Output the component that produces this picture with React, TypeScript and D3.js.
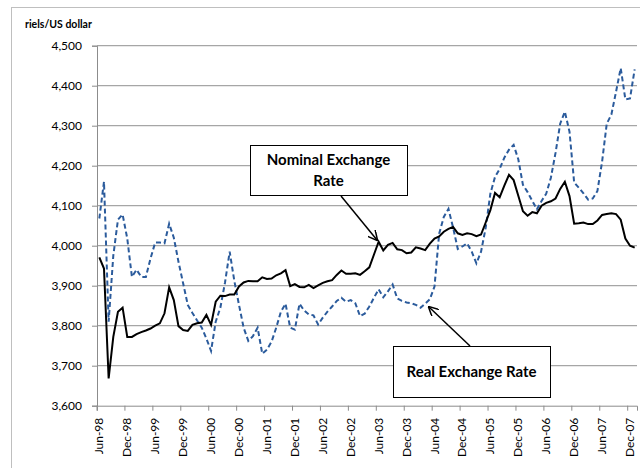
import { useEffect, useRef } from 'react';
import * as d3 from 'd3';

// monthly categories, Jun-98 .. Jan-08
const months = d3
  .timeMonths(new Date(1998, 5, 1), new Date(2008, 1, 1))
  .map(d3.timeFormat('%b-%y'));

const nominalRate = [
  3971, 3943, 3668, 3772, 3835, 3845, 3772, 3772, 3779, 3784,
  3788, 3793, 3800, 3806, 3831, 3896, 3864, 3799, 3789, 3787,
  3802, 3806, 3808, 3827, 3802, 3860, 3875, 3874, 3878, 3878,
  3898, 3908, 3912, 3911, 3911, 3921, 3917, 3918, 3926, 3931,
  3939, 3899, 3904, 3897, 3896, 3902, 3894, 3901, 3907, 3911,
  3914, 3927, 3938, 3930, 3930, 3931, 3927, 3936, 3946, 3978,
  4010, 3988, 4002, 4007, 3991, 3989, 3981, 3983, 3996, 3993,
  3989, 4005, 4018, 4023, 4035, 4042, 4047, 4031, 4027, 4031,
  4029, 4024, 4028, 4058, 4089, 4132, 4121, 4150, 4177, 4164,
  4125, 4086, 4075, 4084, 4081, 4100, 4107, 4111, 4118, 4142,
  4160, 4124, 4055, 4056, 4058, 4054, 4054, 4063, 4077, 4079,
  4081, 4079, 4065, 4018, 4000, 3995,
];

const realRate = [
  4068, 4160, 3810, 3975, 4065, 4078, 4018, 3922, 3940, 3922,
  3922, 3968, 4008, 4008, 4006, 4055, 4020, 3960, 3906, 3852,
  3832, 3813, 3795, 3768, 3737, 3810, 3845, 3908, 3985, 3912,
  3852, 3795, 3762, 3774, 3795, 3730, 3740, 3760, 3795, 3835,
  3855, 3795, 3790, 3855, 3838, 3828, 3826, 3803, 3820, 3835,
  3848, 3862, 3870, 3860, 3864, 3856, 3824, 3830, 3848, 3870,
  3891, 3871, 3886, 3903, 3868, 3862, 3858, 3856, 3852, 3845,
  3855, 3866, 3898, 4030, 4072, 4092, 4045, 3992, 3998, 4006,
  3985, 3956, 3985, 4045, 4130, 4172, 4192, 4220, 4240, 4252,
  4216, 4152, 4134, 4112, 4091, 4112, 4130, 4170, 4232, 4305,
  4335, 4285, 4158, 4145, 4131, 4115, 4118, 4137, 4210, 4305,
  4328, 4385, 4444, 4366, 4368, 4441,
];

const yTicks = [3600, 3700, 3800, 3900, 4000, 4100, 4200, 4300, 4400, 4500];

const FONT = 'Lato, "Open Sans", sans-serif';

const App = () => {
  const ref = useRef<SVGSVGElement>(null);

  useEffect(() => {
    const svg = d3.select(ref.current);
    svg.selectAll('*').remove();

    const left = 97;
    const right = 637;
    const top = 45.7;
    const bottom = 405.7;

    const x = d3.scaleBand().domain(months).range([left, right]);
    const cx = (m: string) => (x(m) as number) + x.bandwidth() / 2;
    const y = d3.scaleLinear().domain([3600, 4500]).range([bottom, top]);

    // outer chart frame
    svg.append('rect')
      .attr('x', 11.5).attr('y', 7.5)
      .attr('width', 700).attr('height', 500)
      .attr('fill', 'white')
      .attr('stroke', '#bfbfbf');

    // gridlines
    svg.append('g')
      .selectAll('line')
      .data(yTicks.slice(1))
      .enter().append('line')
      .attr('x1', left).attr('x2', right)
      .attr('y1', d => y(d)).attr('y2', d => y(d))
      .attr('stroke', '#a6a6a6')
      .attr('stroke-width', 1.2);

    // y axis
    const yAxis = svg.append('g')
      .attr('transform', `translate(${left},0)`)
      .call(d3.axisLeft(y).tickValues(yTicks).tickFormat(d3.format(',')).tickSize(5).tickPadding(10));
    yAxis.select('.domain').attr('stroke', '#8c8c8c');
    yAxis.selectAll('line').attr('stroke', '#8c8c8c');
    yAxis.selectAll('text')
      .attr('font-family', FONT).attr('font-size', 12).attr('fill', '#000');

    // x axis
    const tickMonths = months.filter((_, i) => i % 6 === 0);
    const xAxis = svg.append('g')
      .attr('transform', `translate(0,${bottom})`)
      .call(d3.axisBottom(x).tickValues(tickMonths).tickSize(5).tickFormat(() => ''));
    xAxis.select('.domain').attr('stroke', '#8c8c8c');
    xAxis.selectAll('.tick')
      .attr('transform', d => `translate(${x(d as string)},0)`);
    xAxis.selectAll('line').attr('stroke', '#8c8c8c');

    svg.append('g')
      .selectAll('text')
      .data(tickMonths)
      .enter().append('text')
      .attr('transform', d => `translate(${cx(d) + 4},${bottom + 12}) rotate(-90)`)
      .attr('text-anchor', 'end')
      .attr('font-family', FONT)
      .attr('font-size', 12)
      .text(d => d);

    // axis title
    svg.append('text')
      .attr('x', 25).attr('y', 28)
      .attr('font-family', FONT)
      .attr('font-size', 10.5)
      .attr('font-weight', 'bold')
      .text('riels/US dollar');

    // series
    const line = d3.line<number>()
      .x((_, i) => cx(months[i]))
      .y(d => y(d));

    svg.append('path')
      .datum(realRate)
      .attr('d', line)
      .attr('fill', 'none')
      .attr('stroke', '#2b5b9c')
      .attr('stroke-width', 2)
      .attr('stroke-dasharray', '5,3');

    svg.append('path')
      .datum(nominalRate)
      .attr('d', line)
      .attr('fill', 'none')
      .attr('stroke', '#000')
      .attr('stroke-width', 2);

    // arrow marker
    svg.append('defs').append('marker')
      .attr('id', 'arrow')
      .attr('viewBox', '0 0 10 10')
      .attr('refX', 9).attr('refY', 5)
      .attr('markerWidth', 10).attr('markerHeight', 10)
      .attr('markerUnits', 'userSpaceOnUse')
      .attr('orient', 'auto')
      .append('path')
      .attr('d', 'M0,0 L10,5 L0,10')
      .attr('fill', 'none')
      .attr('stroke', '#000')
      .attr('stroke-width', 1.5);

    // annotations
    const notes = [
      { box: [250, 145, 157, 50], lines: ['Nominal Exchange', 'Rate'], textY: [165, 186], arrow: [341, 196, 377, 240] },
      { box: [393, 346, 157, 51], lines: ['Real Exchange Rate'], textY: [377], arrow: [470, 346, 429, 307] },
    ];

    notes.forEach(n => {
      const [bx, by, bw, bh] = n.box;
      svg.append('line')
        .attr('x1', n.arrow[0]).attr('y1', n.arrow[1])
        .attr('x2', n.arrow[2]).attr('y2', n.arrow[3])
        .attr('stroke', '#000')
        .attr('stroke-width', 1.5)
        .attr('marker-end', 'url(#arrow)');
      svg.append('rect')
        .attr('x', bx + 0.5).attr('y', by + 0.5)
        .attr('width', bw).attr('height', bh)
        .attr('fill', 'white')
        .attr('stroke', '#000')
        .attr('stroke-width', 1);
      n.lines.forEach((t, i) => {
        svg.append('text')
          .attr('x', bx + bw / 2).attr('y', n.textY[i])
          .attr('text-anchor', 'middle')
          .attr('font-family', FONT)
          .attr('font-size', 15)
          .attr('font-weight', 'bold')
          .text(t);
      });
    });
  }, []);

  return (
    <svg
      ref={ref}
      width={640}
      height={468}
      style={{ position: 'absolute', left: 0, top: 0, display: 'block' }}
    />
  );
};

export default App;
